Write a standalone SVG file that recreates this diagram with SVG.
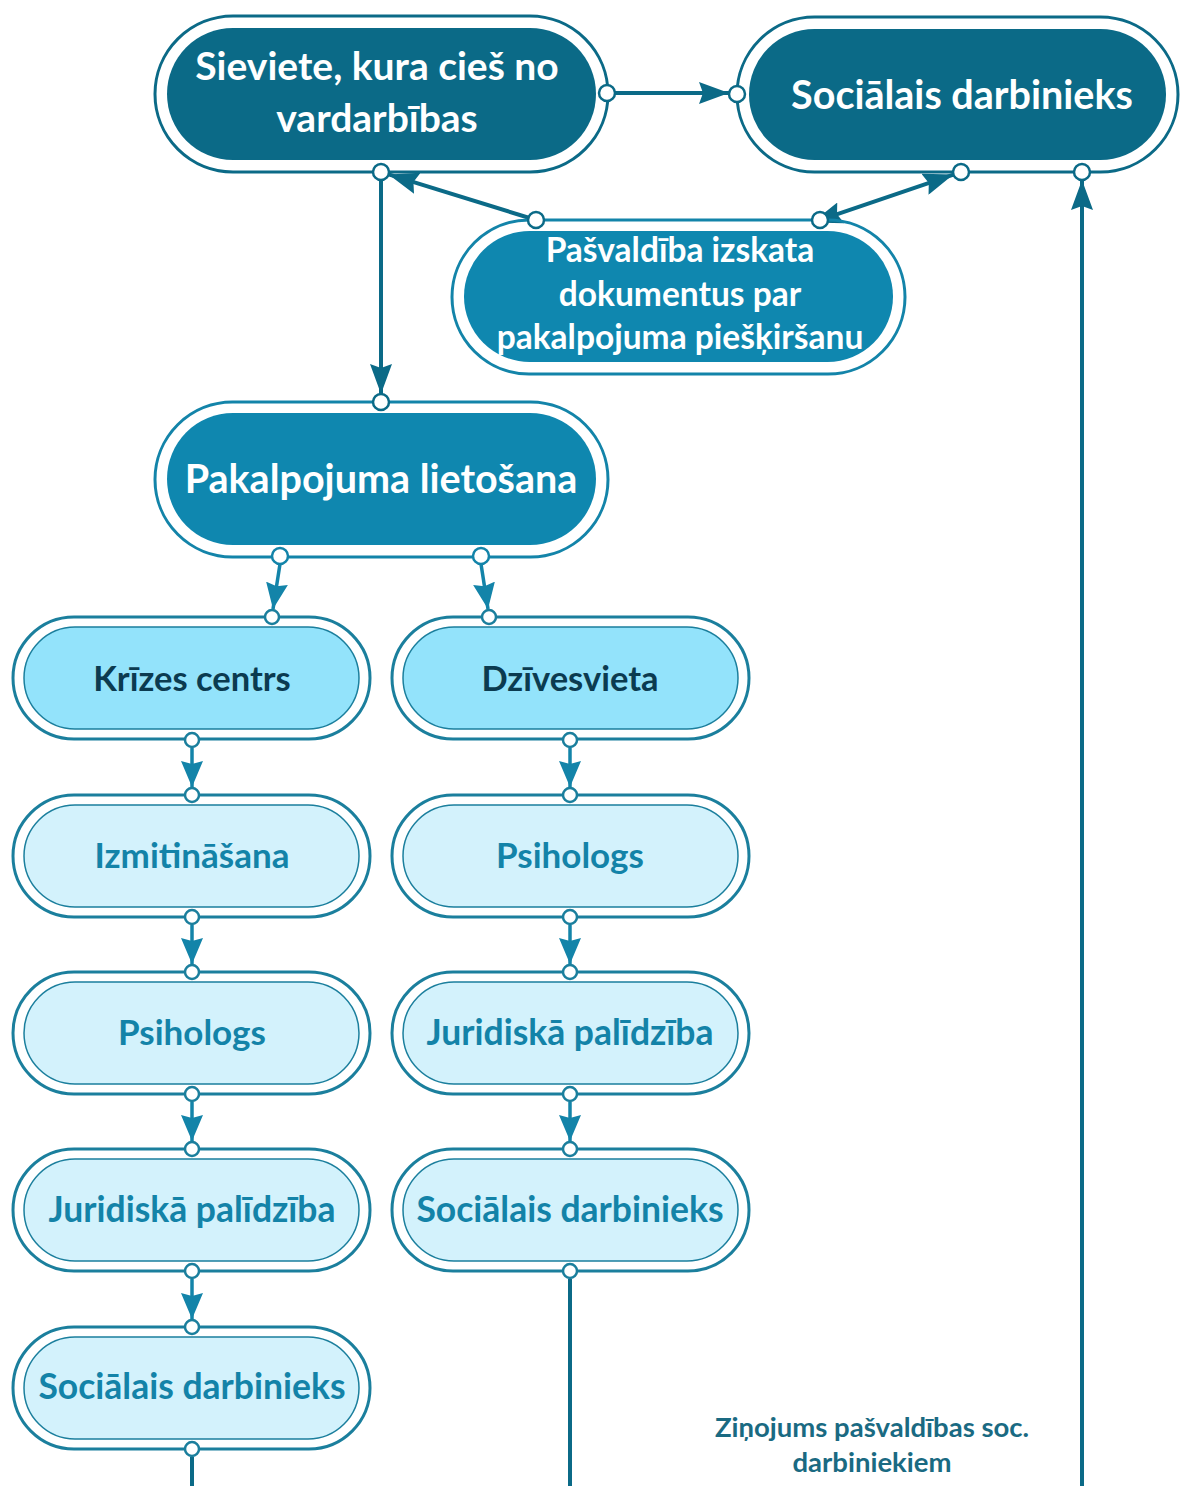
<svg xmlns="http://www.w3.org/2000/svg" width="1180" height="1486" viewBox="0 0 1180 1486">
  <style>
    .t { font-family: Lato, "Open Sans", "Liberation Sans", sans-serif; font-weight: 700; text-anchor: middle; }
    .dark-o { fill: none; stroke: #0b6a87; stroke-width: 3; }
    .dark-i { fill: #0b6a87; }
    .mid-o { fill: none; stroke: #1384a9; stroke-width: 3; }
    .mid-i { fill: #0f87af; }
    .lt-o { fill: none; stroke: #1b7f9d; stroke-width: 3; }
    .lt-i { fill: #d3f2fc; stroke: #1b7f9d; stroke-width: 1.5; }
    .lt-i2 { fill: #93e3fb; stroke: #1b7f9d; stroke-width: 1.5; }
    .port { fill: #ffffff; stroke-width: 2.5; }
    .pd { stroke: #0b6a87; }
    .pm { stroke: #1384a9; }
    .pl { stroke: #1b7f9d; }
    .w { fill: #ffffff; }
    .k { fill: #0b3b50; }
    .b { fill: #1383a8; }
    .ad { fill: none; stroke: #0b6a87; stroke-width: 4; }
    .am { fill: none; stroke: #1384a9; stroke-width: 3.5; }
  </style>
  <defs>
    <marker id="hd" viewBox="0 0 30 22" refX="30" refY="11" markerWidth="30" markerHeight="22" markerUnits="userSpaceOnUse" orient="auto-start-reverse">
      <path d="M0,0 L30,11 L0,22 L4,11 Z" fill="#0b6a87"/>
    </marker>
    <marker id="hm" viewBox="0 0 26 22" refX="26" refY="11" markerWidth="26" markerHeight="22" markerUnits="userSpaceOnUse" orient="auto">
      <path d="M0,0 L26,11 L0,22 L3,11 Z" fill="#1384a9"/>
    </marker>
  </defs>
  <rect width="1180" height="1486" fill="#ffffff"/>

  <!-- connectors -->
  <g id="connectors">
    <path class="ad" d="M607,93 L729,93" marker-end="url(#hd)"/>
    <path class="ad" d="M381,180 L381,394" marker-end="url(#hd)"/>
    <path class="ad" d="M536,220 L388.6,174.4" marker-end="url(#hd)"/>
    <path class="ad" d="M812.4,222.6 L953.4,174.6" marker-start="url(#hd)" marker-end="url(#hd)"/>
    <path class="ad" d="M1082,1486 L1082,180" marker-end="url(#hd)"/>
    <path class="am" d="M280,564 L273,609" marker-end="url(#hm)"/>
    <path class="am" d="M481,564 L488,609" marker-end="url(#hm)"/>
    <path class="am" d="M192,748 L192,787" marker-end="url(#hm)"/>
    <path class="am" d="M192,925 L192,964" marker-end="url(#hm)"/>
    <path class="am" d="M192,1102 L192,1141" marker-end="url(#hm)"/>
    <path class="am" d="M192,1279 L192,1319" marker-end="url(#hm)"/>
    <path class="am" d="M570,748 L570,787" marker-end="url(#hm)"/>
    <path class="am" d="M570,925 L570,964" marker-end="url(#hm)"/>
    <path class="am" d="M570,1102 L570,1141" marker-end="url(#hm)"/>
    <path class="ad" d="M192,1457 L192,1486"/>
    <path class="ad" d="M570,1279 L570,1486"/>
    <text class="t" x="872" y="1437" font-size="27.5" fill="#1a6a82">Ziņojums pašvaldības soc.</text>
    <text class="t" x="872" y="1472" font-size="27.5" fill="#1a6a82">darbiniekiem</text>
  </g>

  <!-- top nodes -->
  <g id="sieviete">
    <rect class="dark-o" x="155" y="16" width="453" height="156" rx="78"/>
    <rect class="dark-i" x="167" y="28" width="429" height="132" rx="66"/>
    <text class="t w" x="377" y="80" font-size="39">Sieviete, kura cieš no</text>
    <text class="t w" x="377" y="132" font-size="39">vardarbības</text>
    <circle class="port pd" cx="607" cy="93" r="8"/>
    <circle class="port pd" cx="381" cy="172" r="8"/>
  </g>

  <g id="socialais-top">
    <rect class="dark-o" x="737" y="17" width="441" height="155" rx="77.5"/>
    <rect class="dark-i" x="749" y="29" width="417" height="131" rx="65.5"/>
    <text class="t w" x="962" y="109" font-size="39.5">Sociālais darbinieks</text>
    <circle class="port pd" cx="737" cy="94" r="8"/>
    <circle class="port pd" cx="961" cy="172" r="8"/>
    <circle class="port pd" cx="1082" cy="172" r="8"/>
  </g>

  <g id="pasvaldiba">
    <rect class="mid-o" x="452" y="220" width="453" height="154" rx="77"/>
    <rect class="mid-i" x="464" y="231" width="429" height="131" rx="65.5"/>
    <text class="t w" x="680" y="262" font-size="33.5">Pašvaldība izskata</text>
    <text class="t w" x="680" y="306" font-size="33.5">dokumentus par</text>
    <text class="t w" x="680" y="349" font-size="33.5">pakalpojuma piešķiršanu</text>
    <circle class="port pd" cx="536" cy="220" r="8"/>
    <circle class="port pd" cx="820" cy="220" r="8"/>
  </g>

  <g id="pakalpojuma">
    <rect class="mid-o" x="155" y="402" width="453" height="155" rx="77.5"/>
    <rect class="mid-i" x="167" y="413" width="429" height="132" rx="66"/>
    <text class="t w" x="381" y="493" font-size="39.5">Pakalpojuma lietošana</text>
    <circle class="port pd" cx="381" cy="402" r="8"/>
    <circle class="port pm" cx="280" cy="556" r="8"/>
    <circle class="port pm" cx="481" cy="556" r="8"/>
  </g>

  <!-- left column -->
  <g id="krizes-centrs">
    <rect class="lt-o" x="13" y="617" width="357" height="122" rx="61"/>
    <rect class="lt-i2" x="24" y="627" width="335" height="102" rx="51"/>
    <text class="t k" x="192" y="691" font-size="34.5">Krīzes centrs</text>
    <circle class="port pl" cx="272" cy="617" r="7"/>
    <circle class="port pl" cx="192" cy="740" r="7"/>
  </g>
  <g id="izmitinasana">
    <rect class="lt-o" x="13" y="795" width="357" height="122" rx="61"/>
    <rect class="lt-i" x="24" y="805" width="335" height="102" rx="51"/>
    <text class="t b" x="192" y="868" font-size="35">Izmitināšana</text>
    <circle class="port pl" cx="192" cy="795" r="7"/>
    <circle class="port pl" cx="192" cy="917" r="7"/>
  </g>
  <g id="psihologs-l">
    <rect class="lt-o" x="13" y="972" width="357" height="122" rx="61"/>
    <rect class="lt-i" x="24" y="982" width="335" height="102" rx="51"/>
    <text class="t b" x="192" y="1045" font-size="35">Psihologs</text>
    <circle class="port pl" cx="192" cy="972" r="7"/>
    <circle class="port pl" cx="192" cy="1094" r="7"/>
  </g>
  <g id="juridiska-l">
    <rect class="lt-o" x="13" y="1149" width="357" height="122" rx="61"/>
    <rect class="lt-i" x="24" y="1159" width="335" height="102" rx="51"/>
    <text class="t b" x="192" y="1222" font-size="35.5">Juridiskā palīdzība</text>
    <circle class="port pl" cx="192" cy="1149" r="7"/>
    <circle class="port pl" cx="192" cy="1271" r="7"/>
  </g>
  <g id="socialais-l">
    <rect class="lt-o" x="13" y="1327" width="357" height="122" rx="61"/>
    <rect class="lt-i" x="24" y="1337" width="335" height="102" rx="51"/>
    <text class="t b" x="192" y="1399" font-size="35.5">Sociālais darbinieks</text>
    <circle class="port pl" cx="192" cy="1327" r="7"/>
    <circle class="port pl" cx="192" cy="1449" r="7"/>
  </g>

  <!-- right column -->
  <g id="dzivesvieta">
    <rect class="lt-o" x="392" y="617" width="357" height="122" rx="61"/>
    <rect class="lt-i2" x="403" y="627" width="335" height="102" rx="51"/>
    <text class="t k" x="570" y="691" font-size="34.5">Dzīvesvieta</text>
    <circle class="port pl" cx="489" cy="617" r="7"/>
    <circle class="port pl" cx="570" cy="740" r="7"/>
  </g>
  <g id="psihologs-r">
    <rect class="lt-o" x="392" y="795" width="357" height="122" rx="61"/>
    <rect class="lt-i" x="403" y="805" width="335" height="102" rx="51"/>
    <text class="t b" x="570" y="868" font-size="35">Psihologs</text>
    <circle class="port pl" cx="570" cy="795" r="7"/>
    <circle class="port pl" cx="570" cy="917" r="7"/>
  </g>
  <g id="juridiska-r">
    <rect class="lt-o" x="392" y="972" width="357" height="122" rx="61"/>
    <rect class="lt-i" x="403" y="982" width="335" height="102" rx="51"/>
    <text class="t b" x="570" y="1045" font-size="35.5">Juridiskā palīdzība</text>
    <circle class="port pl" cx="570" cy="972" r="7"/>
    <circle class="port pl" cx="570" cy="1094" r="7"/>
  </g>
  <g id="socialais-r">
    <rect class="lt-o" x="392" y="1149" width="357" height="122" rx="61"/>
    <rect class="lt-i" x="403" y="1159" width="335" height="102" rx="51"/>
    <text class="t b" x="570" y="1222" font-size="35.5">Sociālais darbinieks</text>
    <circle class="port pl" cx="570" cy="1149" r="7"/>
    <circle class="port pl" cx="570" cy="1271" r="7"/>
  </g>
</svg>
